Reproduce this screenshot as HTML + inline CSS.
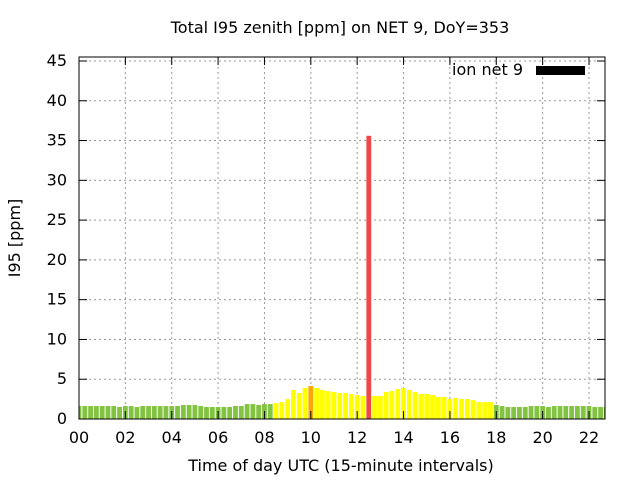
<!DOCTYPE html>
<html><head><meta charset="utf-8"><style>
body{margin:0;background:#fff;}
svg text{font-family:"DejaVu Sans","Liberation Sans",sans-serif;fill:#000;}
</style></head><body>
<svg id="chart" width="640" height="480" xmlns="http://www.w3.org/2000/svg">
<rect width="640" height="480" fill="#fff"/>
<text x="340" y="33" font-size="16" text-anchor="middle">Total I95 zenith [ppm] on NET 9, DoY=353</text>
<g id="grid"></g>
<g id="bars"></g>
<g id="axes"></g>
<text x="341" y="471" font-size="16" text-anchor="middle">Time of day UTC (15-minute intervals)</text>
<text x="0" y="0" font-size="16" text-anchor="middle" transform="translate(20,238) rotate(-90)">I95 [ppm]</text>
<g>
<text x="523" y="75" font-size="16" text-anchor="end">ion net 9</text>
<rect x="536" y="66" width="49" height="9" fill="#000"/>
</g>
</svg>
<script>
const values=[1.63,1.63,1.63,1.63,1.63,1.63,1.63,1.51,1.63,1.63,1.51,1.63,1.63,1.63,1.63,1.63,1.63,1.63,1.76,1.76,1.76,1.63,1.51,1.51,1.51,1.51,1.51,1.63,1.63,1.88,1.88,1.76,1.88,1.88,
2.0,2.13,2.5,3.64,3.26,3.9,4.14,3.9,3.64,3.5,3.39,3.26,3.26,3.14,3.01,2.89,35.6,2.89,2.89,3.39,3.51,3.77,3.89,3.64,3.39,3.14,3.14,3.01,2.76,2.76,2.51,2.64,2.51,2.51,2.38,2.13,2.13,2.13,
1.76,1.63,1.51,1.51,1.51,1.51,1.63,1.63,1.63,1.51,1.63,1.63,1.63,1.63,1.63,1.63,1.63,1.51,1.51,1.51];
const yTicks=[0,5,10,15,20,25,30,35,40,45];
const xTicks=["00","02","04","06","08","10","12","14","16","18","20","22"];
const L=79,R=605,T=57,B=419;
const xs=h=>L+h*(589-L)/22;
const ys=v=>B-v*(B-61)/45;
const NS="http://www.w3.org/2000/svg";
function mk(tag,at,parent){const e=document.createElementNS(NS,tag);for(const k in at)e.setAttribute(k,at[k]);parent.appendChild(e);return e;}
const grid=document.getElementById('grid'),bars=document.getElementById('bars'),axes=document.getElementById('axes');
mk('clipPath',{id:'clip'},bars);
mk('rect',{x:L,y:T,width:R-L,height:B-T},bars.firstChild);
yTicks.forEach(v=>{const y=ys(v);
 if(v>0){const g=mk('line',{x1:L,x2:R,y1:y,y2:y,stroke:'#999','stroke-dasharray':'2,3'},grid);
 
 }
 mk('line',{x1:L,x2:L+8,y1:y,y2:y,stroke:'#000'},axes);
 mk('line',{x1:R,x2:R-8,y1:y,y2:y,stroke:'#000'},axes);
 const t=mk('text',{x:L-12,y:y+5,'font-size':'16','text-anchor':'end'},axes);t.textContent=v;
 
 
});
xTicks.forEach((s,i)=>{const x=xs(i*2);
 if(i>0){const g=mk('line',{x1:x,x2:x,y1:T,y2:B,stroke:'#999','stroke-dasharray':'2,3'},grid);
 
 }
 mk('line',{x1:x,x2:x,y1:B,y2:B-8,stroke:'#000'},axes);
 mk('line',{x1:x,x2:x,y1:T,y2:T+8,stroke:'#000'},axes);
 const t=mk('text',{x:x,y:443,'font-size':'16','text-anchor':'middle'},axes);t.textContent=s;
 
 
});
const bw=(xs(0.25)-xs(0))*0.83;
values.forEach((v,i)=>{const x=xs(i*0.25);
 const c=v<2?'#82c341':v<4?'#ffff00':v<10?'#ffa500':'#f04848';
 const r=mk('rect',{x:x-bw/2,y:ys(v),width:bw,height:B-ys(v),fill:c,'clip-path':'url(#clip)'},bars);
 
 
});
mk('rect',{x:L,y:T,width:R-L,height:B-T,fill:'none',stroke:'#000','stroke-width':1},axes);
</script>
</body></html>
